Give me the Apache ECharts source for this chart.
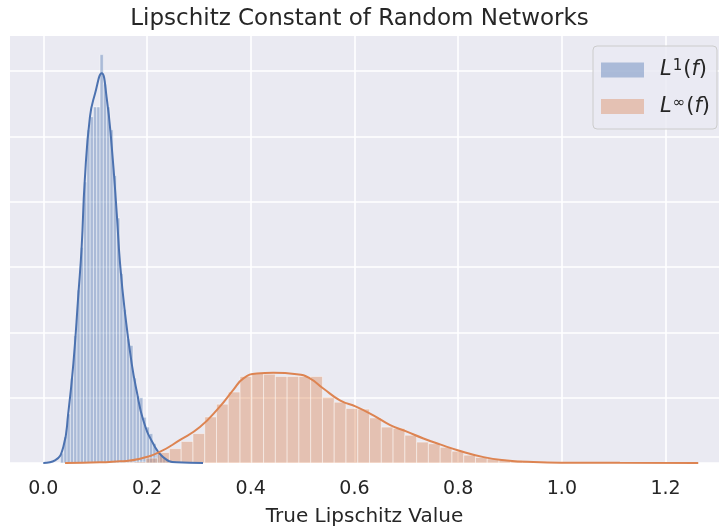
<!DOCTYPE html>
<html>
<head>
<meta charset="utf-8">
<script src="https://cdn.jsdelivr.net/npm/echarts@6/dist/echarts.min.js"></script>
<style>
  html, body { margin: 0; padding: 0; background: #fff; }
  #main { width: 719px; height: 529px; }
</style>
</head>
<body>
<div id="main"></div>
<script>
// histogram bins (density)
var blueStart = 0.0331;
var blueWidth = 0.00636;
var blueHeights = [0.3, 0.8, 1.5, 2.6, 3.9, 5.3, 6.6, 8.6, 10.2, 10.6,
                   10.9, 10.9, 12.5, 11.6, 10.9, 10.2, 8.8, 7.5, 5.8, 4.7,
                   3.8, 3.6, 2.6, 2.05, 2.0, 1.4, 1.1, 0.9, 0.6, 0.35,
                   0.24, 0.15, 0.1, 0.07, 0.05, 0.03, 0.02, 0.02, 0.01, 0.01];

var orangeStart = 0.0843;
var orangeWidth = 0.0227;
var orangeHeights = [0, 0, 0, 0.02, 0.03, 0.15, 0.32, 0.44, 0.66, 0.90,
                     1.41, 1.80, 2.17, 2.65, 2.75, 2.72, 2.65, 2.65, 2.65, 2.65,
                     2.01, 1.86, 1.67, 1.65, 1.38, 1.10, 1.06, 0.85, 0.64, 0.59,
                     0.48, 0.36, 0.24, 0.17, 0.13, 0.10, 0.08, 0.05, 0.04, 0.03,
                     0.02, 0.02, 0.01, 0.01, 0.01, 0.01, 0.005, 0.005, 0.005, 0.005];

// kde curves [x, density]
var blueKde = [[0.0, 0], [0.0226, 0.08], [0.0386, 0.49], [0.048, 1.51], [0.058, 3.04],
               [0.0675, 5.13], [0.074, 6.62], [0.080, 8.66], [0.090, 10.6], [0.0997, 11.3],
               [0.1126, 11.93], [0.122, 11.21], [0.132, 9.68], [0.1416, 7.65], [0.148, 6.11],
               [0.1576, 4.58], [0.1705, 3.04], [0.180, 2.21], [0.193, 1.30], [0.212, 0.59],
               [0.231, 0.18], [0.257, 0.02], [0.308, 0]];
var orangeKde = [[0.042, 0], [0.109, 0.02], [0.148, 0.05], [0.1865, 0.13], [0.2245, 0.34],
                 [0.263, 0.70], [0.302, 1.10], [0.340, 1.72], [0.366, 2.23], [0.386, 2.59],
                 [0.4116, 2.74], [0.4436, 2.76], [0.4887, 2.72], [0.514, 2.59], [0.540, 2.28],
                 [0.572, 1.92], [0.604, 1.72], [0.6365, 1.46], [0.669, 1.16], [0.701, 0.96],
                 [0.733, 0.75], [0.765, 0.57], [0.799, 0.39], [0.849, 0.18], [0.894, 0.08],
                 [0.945, 0.03], [1.009, 0.01], [1.112, 0.005], [1.263, 0]];

var seriesNames = ['L1', 'Linf'];
var blue = '#4C72B0';
var orange = '#DD8452';
var textColor = '#262626';
var font = 'DejaVu Sans';

function binRows(start, width, heights) {
  return heights.map(function (h, i) {
    return [start + i * width, start + (i + 1) * width, h];
  });
}

function histSeries(name, rows, fill) {
  return {
    name: name,
    type: 'custom',
    data: rows,
    encode: { x: [0, 1], y: 2 },
    itemStyle: { color: fill },
    renderItem: function (params, api) {
      var p0 = api.coord([api.value(0), api.value(2)]);
      var p1 = api.coord([api.value(1), 0]);
      return {
        type: 'rect',
        shape: { x: p0[0], y: p0[1], width: p1[0] - p0[0], height: p1[1] - p0[1] },
        style: { fill: fill, stroke: 'rgba(255,255,255,0.45)', lineWidth: 1 }
      };
    }
  };
}

function kdeSeries(name, pts, color) {
  return {
    name: name,
    type: 'line',
    data: pts,
    showSymbol: false,
    symbol: 'none',
    smooth: 0.5,
    lineStyle: { color: color, width: 2 },
    itemStyle: { color: color },
    silent: true
  };
}

var chart = echarts.init(document.getElementById('main'));
chart.setOption({
  animation: false,
  title: {
    text: 'Lipschitz Constant of Random Networks',
    left: 'center',
    top: 3,
    textStyle: { fontSize: 23, fontWeight: 'normal', color: textColor, fontFamily: font }
  },
  legend: {
    data: seriesNames,
    orient: 'vertical',
    left: 593,
    top: 46,
    icon: 'rect',
    itemWidth: 43,
    itemHeight: 15,
    itemGap: 14,
    padding: [12, 7, 12, 8],
    backgroundColor: 'rgba(234,234,242,0.8)',
    borderColor: '#cccccc',
    borderWidth: 1,
    borderRadius: 4,
    formatter: function (name) {
      return name === 'L1' ? '{a|L}{s|1}{n|(}{i|f}{n|)}' : '{a|L}{s|∞}{n|(}{i|f}{n|)}';
    },
    textStyle: {
      color: textColor,
      fontFamily: font,
      rich: {
        a: { fontStyle: 'italic', fontSize: 21, lineHeight: 24, fontFamily: font, color: textColor, padding: [0, 0, 0, 11] },
        i: { fontStyle: 'italic', fontSize: 21, lineHeight: 24, fontFamily: font, color: textColor },
        n: { fontSize: 21, lineHeight: 24, fontFamily: font, color: textColor },
        s: { fontSize: 15, lineHeight: 15, fontFamily: font, color: textColor, verticalAlign: 'top', padding: [1, 1, 0, 1] }
      }
    }
  },
  grid: {
    left: 10, right: 0, top: 36, bottom: 66,
    show: true, backgroundColor: '#EAEAF2', borderWidth: 0,
    containLabel: false, outerBoundsMode: 'none'
  },
  xAxis: {
    type: 'value',
    min: -0.0642,
    max: 1.303,
    splitNumber: 7,
    axisLine: { show: false },
    axisTick: { show: false },
    axisLabel: {
      showMinLabel: false, showMaxLabel: false,
      formatter: function (v) { return v.toFixed(1); },
      fontSize: 19, color: textColor, fontFamily: font, margin: 17
    },
    splitLine: { show: true, showMinLine: false, showMaxLine: false, lineStyle: { color: '#ffffff', width: 1.6 } },
    name: 'True Lipschitz Value',
    nameLocation: 'middle',
    nameGap: 44,
    nameTextStyle: { fontSize: 20, color: textColor, fontFamily: font }
  },
  yAxis: {
    type: 'value',
    min: 0,
    max: 13.07,
    interval: 2,
    axisLine: { show: false },
    axisTick: { show: false },
    axisLabel: { show: false },
    splitLine: { show: true, showMaxLine: false, lineStyle: { color: '#ffffff', width: 1.6 } }
  },
  series: [
    histSeries('L1', binRows(blueStart, blueWidth, blueHeights), 'rgba(76,114,176,0.4)'),
    kdeSeries('L1 kde', blueKde, blue),
    histSeries('Linf', binRows(orangeStart, orangeWidth, orangeHeights), 'rgba(221,132,82,0.4)'),
    kdeSeries('Linf kde', orangeKde, orange)
  ]
});
</script>
</body>
</html>
